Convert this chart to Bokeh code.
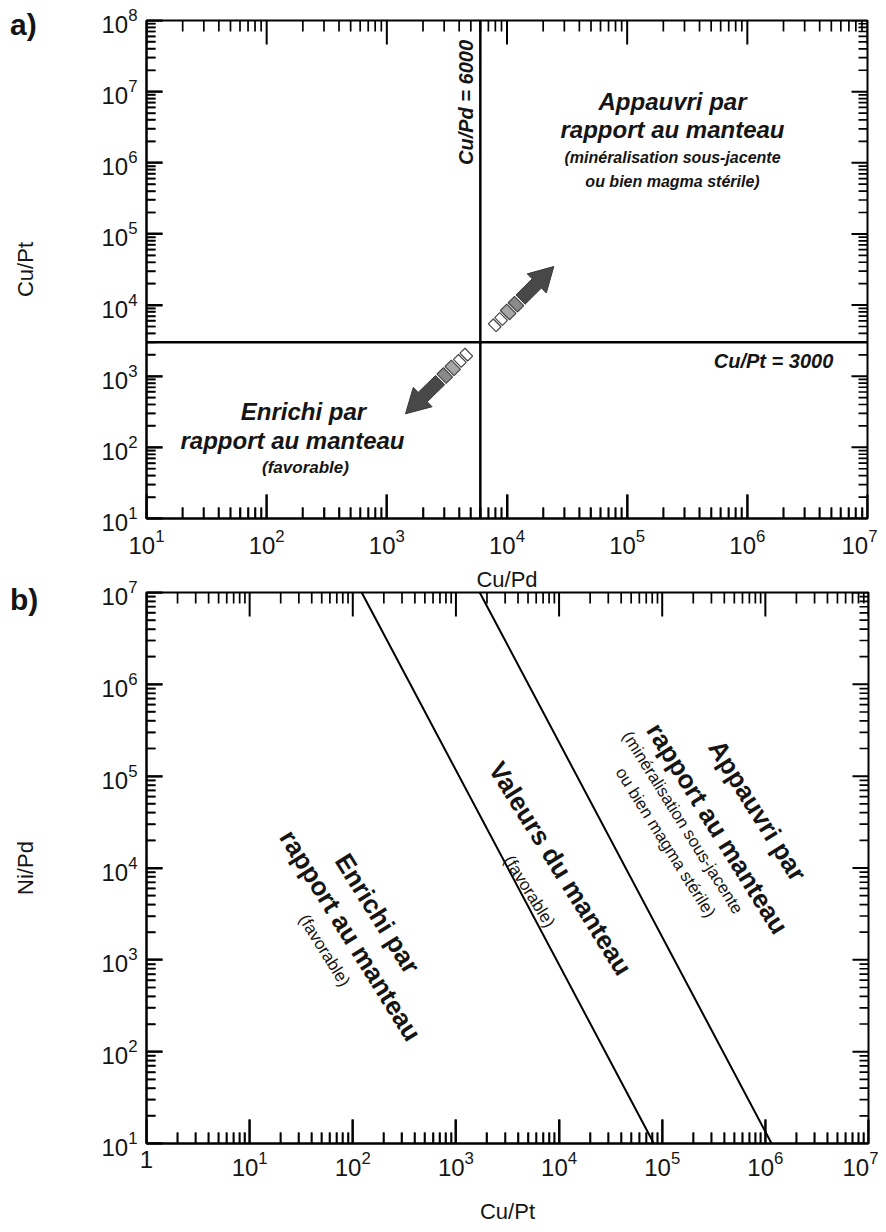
import numpy as np
from bokeh.plotting import figure
from bokeh.models import FixedTicker, Range1d, Div
from bokeh.layouts import column
from bokeh.embed import file_html
from bokeh.resources import INLINE
from bokeh.core.properties import value

# ---------------- data ----------------
a_x_range = [1e1, 1e7]          # Cu/Pd
a_y_range = [1e1, 1e8]          # Cu/Pt
cu_pd_limit = 6000
cu_pt_limit = 3000
b_x_range = [1, 1e7]            # Cu/Pt
b_y_range = [1e1, 1e7]          # Ni/Pd
mantle_lower_x = [122, 8.3e4]
mantle_lower_y = [1e7, 1e1]
mantle_upper_x = [1.7e3, 1.15e6]
mantle_upper_y = [1e7, 1e1]
a_x_exp = [1, 7]
a_y_exp = [1, 8]
b_x_exp = [0, 7]
b_y_exp = [1, 7]

FONT = "Liberation Sans"
TXT = "#151515"

# panel geometry in page pixels: left, top, width, height
PA = dict(left=146, top=20, w=721, h=498, xr=a_x_range, yr=a_y_range)
PB = dict(left=146, top=592, w=722, h=551, xr=b_x_range, yr=b_y_range)


def x_of(P, px):
    lx0, lx1 = np.log10(P["xr"])
    return float(10 ** (lx0 + (px - P["left"]) / P["w"] * (lx1 - lx0)))


def y_of(P, py):
    ly0, ly1 = np.log10(P["yr"])
    return float(10 ** (ly1 - (py - P["top"]) / P["h"] * (ly1 - ly0)))


def px_of(P, x):
    lx0, lx1 = np.log10(P["xr"])
    return P["left"] + (np.log10(x) - lx0) / (lx1 - lx0) * P["w"]


def py_of(P, y):
    ly0, ly1 = np.log10(P["yr"])
    return P["top"] + (ly1 - np.log10(y)) / (ly1 - ly0) * P["h"]


def decades(e):
    return [10.0 ** k for k in range(e[0], e[1] + 1)]


def minors(e):
    return [m * 10.0 ** k for k in range(e[0], e[1]) for m in range(2, 10)]


def style_axis(ax, xe, major_in, minor_in):
    ax.ticker = FixedTicker(ticks=decades(xe), minor_ticks=minors(xe))
    ax.axis_line_width = 2
    ax.axis_line_color = "black"
    ax.major_tick_in = major_in
    ax.major_tick_out = 0
    ax.minor_tick_in = minor_in
    ax.minor_tick_out = 0
    ax.major_tick_line_color = "black"
    ax.minor_tick_line_color = "black"
    ax.major_tick_line_width = 2
    ax.minor_tick_line_width = 1.6
    ax.major_label_text_font = FONT
    ax.major_label_text_font_size = "24px"
    ax.major_label_text_color = TXT
    ax.axis_label_text_font = FONT
    ax.axis_label_text_font_size = "22px"
    ax.axis_label_text_font_style = "normal"
    ax.axis_label_text_color = TXT


def make_fig(P, xe, ye, top, bottom, xlabel, ylabel):
    p = figure(x_axis_type="log", y_axis_type="log",
               x_range=Range1d(*P["xr"]), y_range=Range1d(*P["yr"]),
               frame_width=P["w"], frame_height=P["h"],
               min_border_left=146, min_border_right=10,
               min_border_top=top, min_border_bottom=bottom,
               output_backend="svg", toolbar_location=None,
               x_axis_label=xlabel, y_axis_label=ylabel)
    p.grid.visible = False
    p.outline_line_color = "black"
    p.outline_line_width = 2
    p.background_fill_color = "white"
    p.border_fill_color = None
    bottom_ax = p.below[0]
    left_ax = p.left[0]
    style_axis(bottom_ax, xe, 24, 11)
    style_axis(left_ax, ye, 16, 9)

    # inward ticks on all four sides, drawn as thin filled bars
    fb, ft = P["top"] + P["h"], P["top"]
    fl, fr = P["left"], P["left"] + P["w"]
    xs, ys = [], []
    for vals, L, hw in [(decades(xe), 24, 1.0), (minors(xe), 11, 0.85)]:
        for v in vals:
            c = px_of(P, v)
            xa, xb = x_of(P, c - hw), x_of(P, c + hw)
            for e0, e1 in [(fb, fb - L), (ft, ft + L)]:
                ya, yb = y_of(P, e0), y_of(P, e1)
                xs.append([xa, xb, xb, xa])
                ys.append([ya, ya, yb, yb])
    for vals, L, hw in [(decades(ye), 16, 1.0), (minors(ye), 9, 0.85)]:
        for v in vals:
            c = py_of(P, v)
            ya, yb = y_of(P, c - hw), y_of(P, c + hw)
            for e0, e1 in [(fl, fl + L), (fr, fr - L)]:
                xa, xb = x_of(P, e0), x_of(P, e1)
                xs.append([xa, xb, xb, xa])
                ys.append([ya, ya, yb, yb])
    p.patches(xs, ys, fill_color="black", line_color=None)
    return p, bottom_ax, left_ax


def add_text(p, P, px, py, txt, size, style, angle=0):
    p.text(x=[x_of(P, px)], y=[y_of(P, py)], text=[txt], text_font=value(FONT),
           text_font_size=value(f"{size}px"), text_font_style=style,
           text_align="center", text_baseline="middle",
           angle=angle, angle_units="deg", text_color=TXT)


def add_arrow(p, P, tail, tip):
    T = np.array(tail, float)
    V = np.array(tip, float) - T
    L = np.hypot(*V)
    u = V / L
    n = np.array([-u[1], u[0]])

    def poly(pts):
        xs, ys = [], []
        for s, w in pts:
            q = T + u * s + n * w
            xs.append(x_of(P, q[0]))
            ys.append(y_of(P, q[1]))
        return xs, ys

    def seg(s0, s1, hw):
        return poly([(s0, hw), (s1, hw), (s1, -hw), (s0, -hw)])

    for s0, s1 in [(0, 7), (9, 16)]:
        xs, ys = seg(s0, s1, 5.5)
        p.patch(xs, ys, fill_color="white", line_color="#444444", line_width=1.2)
    for (s0, s1), c in zip([(18, 27), (29, 38)], ["#a6a6a6", "#8a8a8a"]):
        xs, ys = seg(s0, s1, 6.5)
        p.patch(xs, ys, fill_color=c, line_color="#444444", line_width=1.2)
    hb = L - 24
    xs, ys = poly([(40, 6.5), (hb, 6.5), (hb, 13.5), (L, 0), (hb, -13.5), (hb, -6.5), (40, -6.5)])
    p.patch(xs, ys, fill_color="#484848", line_color="#383838", line_width=1)


# ---------------- panel a ----------------
A_TOP = 20
A_BOTTOM = 80
pa, pa_bottom, pa_left = make_fig(PA, a_x_exp, a_y_exp, A_TOP, A_BOTTOM, "Cu/Pd", "Cu/Pt")
pa_bottom.major_label_standoff = 10
pa_bottom.axis_label_standoff = 10
pa_left.major_label_standoff = 9
pa_left.axis_label_standoff = 60

pa.line([cu_pd_limit, cu_pd_limit], a_y_range, line_color="black", line_width=2.5)
pa.line(a_x_range, [cu_pt_limit, cu_pt_limit], line_color="black", line_width=2.5)

add_arrow(pa, PA, (491.7, 327.3), (553.3, 266.0))
add_arrow(pa, PA, (468.3, 351.7), (405.0, 413.3))

add_text(pa, PA, 465, 102, "Cu/Pd = 6000", 20, "bold italic", angle=90)
add_text(pa, PA, 773, 360, "Cu/Pt = 3000", 20, "bold italic")
add_text(pa, PA, 672, 101, "Appauvri par", 24, "bold italic")
add_text(pa, PA, 672, 129, "rapport au manteau", 24, "bold italic")
add_text(pa, PA, 672, 157, "(minéralisation sous-jacente", 16, "bold italic")
add_text(pa, PA, 672, 181, "ou bien magma stérile)", 16, "bold italic")
add_text(pa, PA, 303, 411, "Enrichi par", 24, "bold italic")
add_text(pa, PA, 292, 440, "rapport au manteau", 24, "bold italic")
add_text(pa, PA, 305, 467, "(favorable)", 17, "bold italic")

# ---------------- panel b ----------------
B_TOP = 14
B_BOTTOM = 84
pb, pb_bottom, pb_left = make_fig(PB, b_x_exp, b_y_exp, B_TOP, B_BOTTOM, "Cu/Pt", "Ni/Pd")
pb_bottom.major_label_overrides = {1: "1"}
pb_bottom.major_label_standoff = 7
pb_bottom.axis_label_standoff = 20
pb_left.major_label_standoff = 9
pb_left.axis_label_standoff = 60

pb.line(mantle_lower_x, mantle_lower_y, line_color="black", line_width=2)
pb.line(mantle_upper_x, mantle_upper_y, line_color="black", line_width=2)

ANG = -58
add_text(pb, PB, 377, 913, "Enrichi par", 26, "bold", angle=ANG)
add_text(pb, PB, 350, 935, "rapport au manteau", 26, "bold", angle=ANG)
add_text(pb, PB, 324, 950, "(favorable)", 17, "normal", angle=ANG)
add_text(pb, PB, 560, 868, "Valeurs du manteau", 26, "bold", angle=ANG)
add_text(pb, PB, 529, 891, "(favorable)", 17, "normal", angle=ANG)
add_text(pb, PB, 757, 810, "Appauvri par", 26, "bold", angle=ANG)
add_text(pb, PB, 717, 828, "rapport au manteau", 26, "bold", angle=ANG)
add_text(pb, PB, 682, 822, "(minéralisation sous-jacente", 17, "normal", angle=ANG)
add_text(pb, PB, 665, 842, "ou bien magma stérile)", 17, "normal", angle=ANG)

# ---------------- panel letters (overlaid HTML text) ----------------
LBL_H = 34
a_canvas_end = A_TOP + PA["h"] + A_BOTTOM          # 598
b_canvas_top = PB["top"] - B_TOP                   # 578
lbl_style = {"font-family": FONT, "font-size": "30px", "font-weight": "bold",
             "color": TXT, "line-height": f"{LBL_H}px", "margin-left": "10px"}
div_a = Div(text="a)", width=50, height=LBL_H,
            styles=dict(lbl_style, **{"margin-top": "8px", "margin-bottom": f"-{8 + LBL_H}px"}))
b_lbl_top = 600 - LBL_H // 2
div_b = Div(text="b)", width=50, height=LBL_H,
            styles=dict(lbl_style, **{"margin-top": f"-{a_canvas_end - b_lbl_top}px",
                                      "margin-bottom": f"-{b_lbl_top + LBL_H - b_canvas_top}px"}))

layout = column(div_a, pa, div_b, pb, spacing=0)
open("out.html", "w").write(file_html(layout, INLINE))
